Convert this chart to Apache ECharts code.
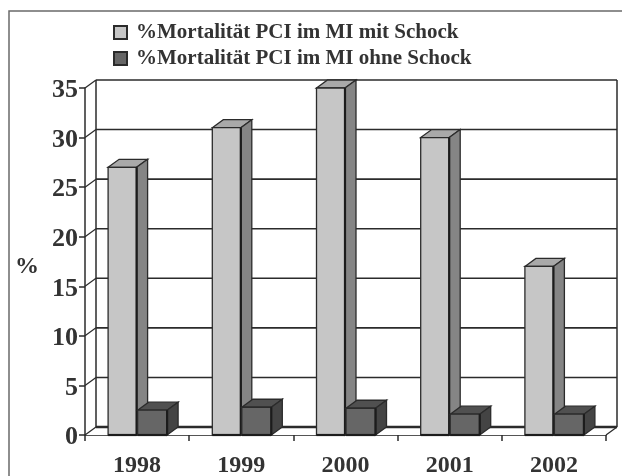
<!DOCTYPE html>
<html>
<head>
<meta charset="utf-8">
<style>
  html, body { margin: 0; padding: 0; background: #fff; }
  #main { width: 622px; height: 476px; }
</style>
<script src="https://cdn.jsdelivr.net/npm/echarts@6/dist/echarts.min.js"></script>
</head>
<body>
<div id="main"></div>
<script>
const years = ['1998', '1999', '2000', '2001', '2002'];
const mitSchock = [27, 31, 35, 30, 17];
const ohneSchock = [2.5, 2.8, 2.7, 2.1, 2.1];
const yTicks = [0, 5, 10, 15, 20, 25, 30, 35];

const DX = 11, DY = -8; // Tiefe der 3D-Darstellung
const LINE = '#2b2b2b';
const SERIF = 'Liberation Serif';

function bar3d(x0, x1, yTop, yBase, front, top, side) {
  return {
    type: 'group',
    children: [
      { type: 'polygon', shape: { points: [[x0, yTop], [x0 + DX, yTop + DY], [x1 + DX, yTop + DY], [x1, yTop]] }, style: { fill: top, stroke: LINE, lineWidth: 1.3 } },
      { type: 'polygon', shape: { points: [[x1, yTop], [x1 + DX, yTop + DY], [x1 + DX, yBase + DY], [x1, yBase]] }, style: { fill: side, stroke: LINE, lineWidth: 1.3 } },
      { type: 'rect', shape: { x: x0, y: yTop, width: x1 - x0, height: yBase - yTop }, style: { fill: front, stroke: LINE, lineWidth: 1.3 } },
      { type: 'line', shape: { x1: x1, y1: yTop, x2: x1, y2: yBase }, style: { stroke: '#1c1c1c', lineWidth: 2.2 } },
      { type: 'line', shape: { x1: x0, y1: yBase, x2: x1, y2: yBase }, style: { stroke: '#1c1c1c', lineWidth: 2.2 } }
    ]
  };
}

function renderMit(params, api) {
  const c = api.coord([api.value(0), api.value(1)]);
  const base = api.coord([api.value(0), 0]);
  return bar3d(c[0] - 29, c[0] - 0.5, c[1], base[1], '#c6c6c6', '#a9a9a9', '#858585');
}

function renderOhne(params, api) {
  const c = api.coord([api.value(0), api.value(1)]);
  const base = api.coord([api.value(0), 0]);
  return bar3d(c[0] + 0.5, c[0] + 30, c[1], base[1], '#666666', '#505050', '#444444');
}

// Rueckwand, Gitterlinien und Boden
function renderWall(params, api) {
  const band = api.size([1, 0])[0];
  const v = api.value(0);
  const p = api.coord([0, v]);
  const xL = p[0] - band / 2;
  const xR = xL + band * years.length;
  const lines = [
    { type: 'line', shape: { x1: xL, y1: p[1], x2: xL + DX, y2: p[1] + DY }, style: { stroke: LINE, lineWidth: 1.2 } },
    { type: 'line', shape: { x1: xL + DX, y1: p[1] + DY, x2: xR + DX, y2: p[1] + DY }, style: { stroke: LINE, lineWidth: v === 0 ? 2.4 : 1.6 } }
  ];
  if (v === 0) {
    const top = api.coord([0, yTicks[yTicks.length - 1]]);
    lines.push({ type: 'line', shape: { x1: xL + DX, y1: p[1] + DY, x2: xL + DX, y2: top[1] + DY }, style: { stroke: LINE, lineWidth: 1.5 } });
    lines.push({ type: 'line', shape: { x1: xR + DX, y1: p[1] + DY, x2: xR + DX, y2: top[1] + DY }, style: { stroke: LINE, lineWidth: 1.5 } });
    lines.push({ type: 'line', shape: { x1: xR, y1: p[1], x2: xR + DX, y2: p[1] + DY }, style: { stroke: LINE, lineWidth: 1.2 } });
  }
  return { type: 'group', children: lines };
}

const chart = echarts.init(document.getElementById('main'));
chart.setOption({
  backgroundColor: '#fff',
  animation: false,
  graphic: [{
    type: 'rect',
    shape: { x: 9, y: 11, width: 620, height: 470 },
    style: { fill: 'none', stroke: '#6a6a6a', lineWidth: 1.5 },
    silent: true
  }],
  legend: {
    orient: 'vertical',
    left: 108,
    top: 17,
    itemWidth: 13,
    itemHeight: 13,
    itemGap: 5,
    icon: 'rect',
    data: ['%Mortalität PCI im MI mit Schock', '%Mortalität PCI im MI ohne Schock'],
    textStyle: { fontFamily: SERIF, fontWeight: 'bold', fontSize: 21, color: '#333333', padding: [0, 0, 0, 4] }
  },
  grid: { left: 85, right: 16, top: 88, bottom: 41, outerBoundsMode: 'none' },
  xAxis: {
    type: 'category',
    data: years,
    axisLine: { lineStyle: { color: '#555555', width: 1.2 } },
    axisTick: { show: true, alignWithLabel: false, length: 6, lineStyle: { color: LINE, width: 1.5 } },
    axisLabel: { fontFamily: SERIF, fontWeight: 'bold', fontSize: 24, color: '#333333', margin: 19 }
  },
  yAxis: {
    type: 'value',
    min: 0,
    max: 35,
    interval: 5,
    name: '{p|%}',
    nameLocation: 'middle',
    nameRotate: 0,
    nameGap: 46,
    nameTextStyle: {
      rich: { p: { fontFamily: SERIF, fontWeight: 'bold', fontSize: 24, color: '#333333', padding: [10, 0, 0, 0] } }
    },
    axisLine: { show: true, lineStyle: { color: LINE, width: 1.5 } },
    axisTick: { show: true, length: 6, lineStyle: { color: LINE, width: 1.5 } },
    axisLabel: {
      margin: 7,
      formatter: '{v|{value}}',
      rich: { v: { fontFamily: SERIF, fontWeight: 'bold', fontSize: 26, color: '#333333', padding: [5, 0, 0, 0] } }
    },
    splitLine: { show: false }
  },
  series: [
    {
      type: 'custom',
      silent: true,
      z: 1,
      renderItem: renderWall,
      encode: { y: 0 },
      data: yTicks.map(v => [v])
    },
    {
      name: '%Mortalität PCI im MI mit Schock',
      type: 'custom',
      z: 3,
      renderItem: renderMit,
      itemStyle: { color: '#c6c6c6', borderColor: LINE, borderWidth: 1.5 },
      encode: { x: 0, y: 1 },
      data: mitSchock.map((v, i) => [i, v])
    },
    {
      name: '%Mortalität PCI im MI ohne Schock',
      type: 'custom',
      z: 4,
      renderItem: renderOhne,
      itemStyle: { color: '#666666', borderColor: LINE, borderWidth: 1.5 },
      encode: { x: 0, y: 1 },
      data: ohneSchock.map((v, i) => [i, v])
    }
  ]
});
</script>
</body>
</html>
